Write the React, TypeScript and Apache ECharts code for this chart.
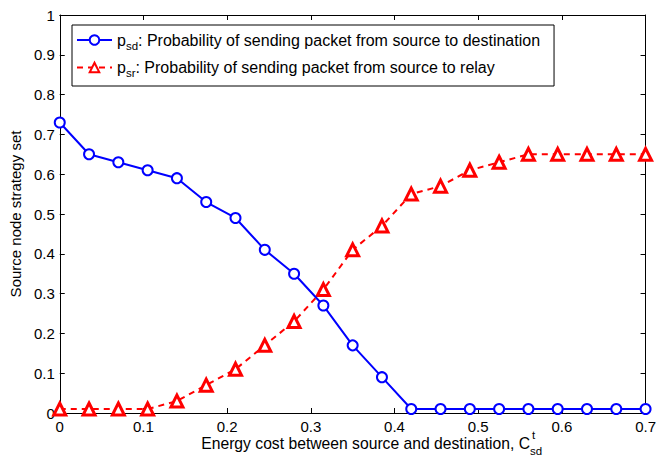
import React, { useEffect, useRef } from "react";
import * as echarts from "echarts";

const xValues = [0, 0.035, 0.07, 0.105, 0.14, 0.175, 0.21, 0.245, 0.28, 0.315, 0.35, 0.385, 0.42, 0.455, 0.49, 0.525, 0.56, 0.595, 0.63, 0.665, 0.7];
const psd = [0.73, 0.65, 0.63, 0.61, 0.59, 0.53, 0.49, 0.41, 0.35, 0.27, 0.17, 0.09, 0.01, 0.01, 0.01, 0.01, 0.01, 0.01, 0.01, 0.01, 0.01];
const psr = [0.01, 0.01, 0.01, 0.01, 0.03, 0.07, 0.11, 0.17, 0.23, 0.31, 0.41, 0.47, 0.55, 0.57, 0.61, 0.63, 0.65, 0.65, 0.65, 0.65, 0.65];
const legendTexts = {
  psd: ": Probability of sending packet from source to destination",
  psr: ": Probability of sending packet from source to relay",
};
const xTitle = "Energy cost between source and destination, C";
const yTitle = "Source node strategy set";

const FONT = "Liberation Sans, Arial, Helvetica, sans-serif";

export default function App() {
  const ref = useRef<HTMLDivElement>(null);
  useEffect(() => {
    if (!ref.current) return;
    const chart = echarts.init(ref.current, undefined, { renderer: "svg" });
    const tick = { show: true, inside: true, length: 5, lineStyle: { color: "#000", width: 1 } };
    chart.setOption({
      animation: false,
      textStyle: { fontFamily: FONT },
      grid: { left: 55, right: 11, top: 15, bottom: 44, containLabel: false },
      legend: {
        orient: "vertical",
        left: 72,
        top: 25,
        padding: [7, 14, 7, 4],
        itemGap: 8,
        itemWidth: 35,
        itemHeight: 12,
        borderColor: "#000",
        borderWidth: 1,
        backgroundColor: "#fff",
        data: ["psd", "psr"],
        formatter: (name: string) =>
          name === "psd"
            ? `{p|p}{s|sd}{t|${legendTexts.psd}}`
            : `{p|p}{s|sr}{t|${legendTexts.psr}}`,
        textStyle: {
          fontFamily: FONT,
          fontSize: 16,
          color: "#000",
          rich: {
            p: { fontSize: 16, fontFamily: FONT, color: "#000" },
            s: { fontSize: 11.5, fontFamily: FONT, color: "#000", padding: [11, 0, 0, 0] },
            t: { fontSize: 16, fontFamily: FONT, color: "#000" },
          },
        },
      },
      xAxis: [
        {
          type: "value",
          min: 0,
          max: 0.7,
          interval: 0.1,
          axisLine: { show: true, lineStyle: { color: "#000", width: 1 } },
          axisTick: tick,
          splitLine: { show: false },
          axisLabel: { color: "#000", fontSize: 15, fontFamily: FONT, margin: 6 },
        },
        {
          type: "value",
          position: "top",
          min: 0,
          max: 0.7,
          interval: 0.1,
          axisLine: { show: true, onZero: false, lineStyle: { color: "#000", width: 1 } },
          axisTick: tick,
          splitLine: { show: false },
          axisLabel: { show: false },
        },
      ],
      yAxis: [
        {
          type: "value",
          min: 0,
          max: 1,
          interval: 0.1,
          name: yTitle,
          nameLocation: "middle",
          nameGap: 35,
          nameTextStyle: { color: "#000", fontSize: 15, fontFamily: FONT },
          axisLine: { show: true, lineStyle: { color: "#000", width: 1 } },
          axisTick: tick,
          splitLine: { show: false },
          axisLabel: { color: "#000", fontSize: 15, fontFamily: FONT, margin: 5 },
        },
        {
          type: "value",
          position: "right",
          min: 0,
          max: 1,
          interval: 0.1,
          axisLine: { show: true, onZero: false, lineStyle: { color: "#000", width: 1 } },
          axisTick: tick,
          splitLine: { show: false },
          axisLabel: { show: false },
        },
      ],
      graphic: [
        {
          type: "text",
          x: 530,
          y: 443,
          style: { text: xTitle, fontSize: 15.7, fontFamily: FONT, fill: "#000", align: "right", verticalAlign: "middle" },
        },
        {
          type: "text",
          x: 532,
          y: 435,
          style: { text: "t", fontSize: 11.5, fontFamily: FONT, fill: "#000", align: "left", verticalAlign: "middle" },
        },
        {
          type: "text",
          x: 530,
          y: 451,
          style: { text: "sd", fontSize: 11.5, fontFamily: FONT, fill: "#000", align: "left", verticalAlign: "middle" },
        },
      ],
      series: [
        {
          name: "psd",
          type: "line",
          data: xValues.map((x, i) => [x, psd[i]]),
          symbol: "circle",
          symbolSize: 10,
          showAllSymbol: true,
          z: 3,
          lineStyle: { color: "#0000ff", width: 2, type: "solid" },
          itemStyle: { color: "#ffffff", borderColor: "#0000ff", borderWidth: 2 },
          emphasis: { disabled: true },
        },
        {
          name: "psr",
          type: "line",
          data: xValues.map((x, i) => [x, psr[i]]),
          symbol: "triangle",
          symbolSize: 12,
          showAllSymbol: true,
          z: 2,
          lineStyle: { color: "#ff0000", width: 2, type: [6, 5] },
          itemStyle: { color: "#ffffff", borderColor: "#ff0000", borderWidth: 3 },
          emphasis: { disabled: true },
        },
      ],
    });
    return () => chart.dispose();
  }, []);
  return <div ref={ref} style={{ width: 659, height: 457, position: "absolute", left: 0, top: 0 }} />;
}
